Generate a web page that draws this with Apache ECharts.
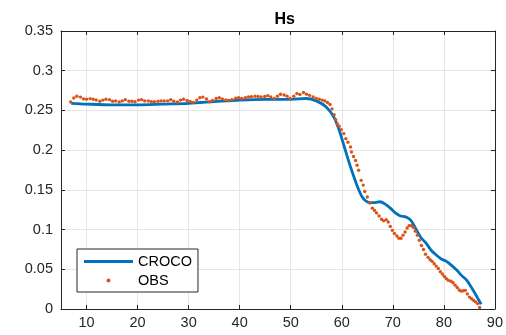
<!DOCTYPE html>
<html><head><meta charset="utf-8">
<script src="https://cdn.jsdelivr.net/npm/echarts@6/dist/echarts.min.js"></script>
<style>html,body{margin:0;padding:0;background:#fff}#c{width:506px;height:335px}</style>
</head><body><div id="c"></div>
<script>
const titleText = 'Hs';
const seriesNames = ['CROCO', 'OBS'];
const xTicks = [10, 20, 30, 40, 50, 60, 70, 80, 90];
const crocoX = [7, 10, 15, 20, 25, 30, 35, 40, 45, 50, 53, 55, 57, 58.5, 59.5, 60.5, 61.5, 62.5, 63.2, 64, 64.7, 65.5, 66.5, 67.5, 68.5, 69.5, 70.5, 71.5, 72.5, 73.5, 74.5, 75.5, 76.5, 77.5, 78.5, 79.5, 80.5, 81.5, 82.5, 83.5, 84.5, 85.5, 86.5, 87.3];
const crocoY = [0.259, 0.258, 0.257, 0.257, 0.258, 0.259, 0.261, 0.263, 0.264, 0.264, 0.265, 0.262, 0.254, 0.241, 0.225, 0.204, 0.183, 0.164, 0.152, 0.141, 0.136, 0.134, 0.134, 0.135, 0.132, 0.127, 0.121, 0.117, 0.116, 0.112, 0.101, 0.090, 0.083, 0.074, 0.068, 0.063, 0.060, 0.055, 0.049, 0.042, 0.036, 0.026, 0.015, 0.006];
const obsX = [6.9, 7.5, 8.1, 8.8, 9.4, 10.0, 10.7, 11.3, 11.9, 12.6, 13.2, 13.8, 14.5, 15.1, 15.7, 16.4, 17.0, 17.6, 18.3, 18.9, 19.5, 20.2, 20.8, 21.4, 22.1, 22.7, 23.3, 24.0, 24.6, 25.2, 25.9, 26.5, 27.1, 27.8, 28.4, 29.0, 29.7, 30.3, 30.9, 31.6, 32.2, 32.8, 33.5, 34.1, 34.7, 35.4, 36.0, 36.6, 37.3, 37.9, 38.5, 39.2, 39.8, 40.4, 41.1, 41.7, 42.3, 43.0, 43.6, 44.2, 44.9, 45.5, 46.1, 46.8, 47.4, 48.0, 48.7, 49.3, 49.9, 50.6, 51.2, 51.8, 52.5, 53.1, 53.7, 54.4, 55.0, 55.6, 56.2, 56.7, 57.2, 57.7, 58.1, 58.5, 58.8, 59.1, 59.5, 59.9, 60.4, 60.8, 61.2, 61.7, 61.9, 62.3, 62.7, 63.0, 63.3, 63.8, 64.2, 64.5, 65.0, 65.5, 66.0, 66.4, 66.8, 67.3, 67.8, 68.2, 68.7, 69.1, 69.5, 69.9, 70.3, 70.8, 71.2, 71.6, 72.0, 72.4, 72.8, 73.2, 73.6, 74.0, 74.4, 74.8, 75.2, 75.6, 76.0, 76.4, 76.9, 77.3, 77.7, 78.1, 78.5, 78.9, 79.3, 79.7, 80.1, 80.5, 80.9, 81.4, 81.8, 82.2, 82.6, 83.0, 83.4, 83.8, 84.2, 84.6, 85.0, 85.4, 85.8, 86.2, 86.6, 87.0];
const obsY = [0.2606, 0.2657, 0.2678, 0.2668, 0.2645, 0.2640, 0.2649, 0.2640, 0.2631, 0.2615, 0.2630, 0.2640, 0.2636, 0.2615, 0.2620, 0.2606, 0.2620, 0.2636, 0.2615, 0.2615, 0.2610, 0.2630, 0.2636, 0.2620, 0.2620, 0.2610, 0.2610, 0.2615, 0.2620, 0.2620, 0.2620, 0.2636, 0.2615, 0.2606, 0.2630, 0.2640, 0.2625, 0.2612, 0.2602, 0.2630, 0.2660, 0.2668, 0.2645, 0.2610, 0.2625, 0.2650, 0.2660, 0.2645, 0.2632, 0.2627, 0.2636, 0.2655, 0.2660, 0.2650, 0.2660, 0.2670, 0.2672, 0.2678, 0.2675, 0.2670, 0.2675, 0.2686, 0.2670, 0.2652, 0.2680, 0.2703, 0.2695, 0.2680, 0.2650, 0.2680, 0.2712, 0.2700, 0.2725, 0.2705, 0.2690, 0.2670, 0.2650, 0.2640, 0.2630, 0.2620, 0.2600, 0.2575, 0.2520, 0.2447, 0.2384, 0.2334, 0.2300, 0.2258, 0.2208, 0.2145, 0.2100, 0.2040, 0.1977, 0.1920, 0.1870, 0.1810, 0.1746, 0.1620, 0.1560, 0.1480, 0.1410, 0.1335, 0.1270, 0.1240, 0.1210, 0.1170, 0.1130, 0.1110, 0.1125, 0.1095, 0.1040, 0.0990, 0.0950, 0.0920, 0.0890, 0.0890, 0.0930, 0.0970, 0.1020, 0.1050, 0.1050, 0.1030, 0.0980, 0.0930, 0.0865, 0.0800, 0.0750, 0.0690, 0.0650, 0.0620, 0.0600, 0.0570, 0.0540, 0.0510, 0.0470, 0.0440, 0.0410, 0.0380, 0.0360, 0.0350, 0.0330, 0.0300, 0.0270, 0.0240, 0.0225, 0.0230, 0.0235, 0.0190, 0.0150, 0.0130, 0.0110, 0.0090, 0.0068, 0.0018];

const axisColor = '#262626';
const gridColor = '#e6e6e6';
const font = 'Liberation Sans, Arial, Helvetica, sans-serif';
const chart = echarts.init(document.getElementById('c'), null, {renderer: 'canvas'});
const zip = (a, b) => a.map((v, i) => [v, b[i]]);
const xCommon = {
  type: 'value', min: 5, max: 90,
  axisLine: {show: true, onZero: false, lineStyle: {color: axisColor, width: 1}},
  axisTick: {show: true, inside: true, length: 4, customValues: xTicks, lineStyle: {color: axisColor}},
  splitLine: {show: false}
};
const yCommon = {
  type: 'value', min: 0, max: 0.35, interval: 0.05,
  axisLine: {show: true, onZero: false, lineStyle: {color: axisColor, width: 1}},
  axisTick: {show: true, inside: true, length: 4, lineStyle: {color: axisColor}},
  splitLine: {show: false}
};
chart.setOption({
  animation: false,
  backgroundColor: '#fff',
  title: {text: titleText, left: 269.5, top: 7,
    textStyle: {fontFamily: font, fontSize: 16, fontWeight: 'bold', color: '#000'}},
  grid: {left: 61, right: 8, top: 31, bottom: 26, containLabel: false},
  xAxis: [
    Object.assign({}, xCommon, {position: 'bottom',
      axisLabel: {show: true, customValues: xTicks, color: axisColor, fontFamily: font, fontSize: 14.5, margin: 6},
      splitLine: {show: true, lineStyle: {color: gridColor, width: 1}}}),
    Object.assign({}, xCommon, {position: 'top', axisLabel: {show: false}})
  ],
  yAxis: [
    Object.assign({}, yCommon, {position: 'left',
      axisLabel: {show: true, color: axisColor, fontFamily: font, fontSize: 14.5, margin: 8},
      splitLine: {show: true, lineStyle: {color: gridColor, width: 1}}}),
    Object.assign({}, yCommon, {position: 'right', axisLabel: {show: false}})
  ],
  legend: {
    show: true, orient: 'vertical', left: 77, top: 249,
    data: [{name: seriesNames[0], icon: 'path://M0,0H49V3H0Z'}, {name: seriesNames[1]}],
    backgroundColor: '#fff', borderColor: axisColor, borderWidth: 1, borderRadius: 0,
    padding: [5, 6, 4, 7], itemGap: 4, itemWidth: 49, itemHeight: 4,
    textStyle: {fontFamily: font, fontSize: 14.5, color: '#000'},
    selectedMode: false
  },
  series: [
    {name: seriesNames[0], type: 'line', data: zip(crocoX, crocoY), smooth: 0.3, symbol: 'none',
      lineStyle: {color: '#0072BD', width: 2.8}, itemStyle: {color: '#0072BD'}, z: 2},
    {name: seriesNames[1], type: 'scatter', data: zip(obsX, obsY), symbol: 'circle', symbolSize: 3.4,
      itemStyle: {color: '#D95319', opacity: 1}, z: 3}
  ]
});
</script></body></html>
